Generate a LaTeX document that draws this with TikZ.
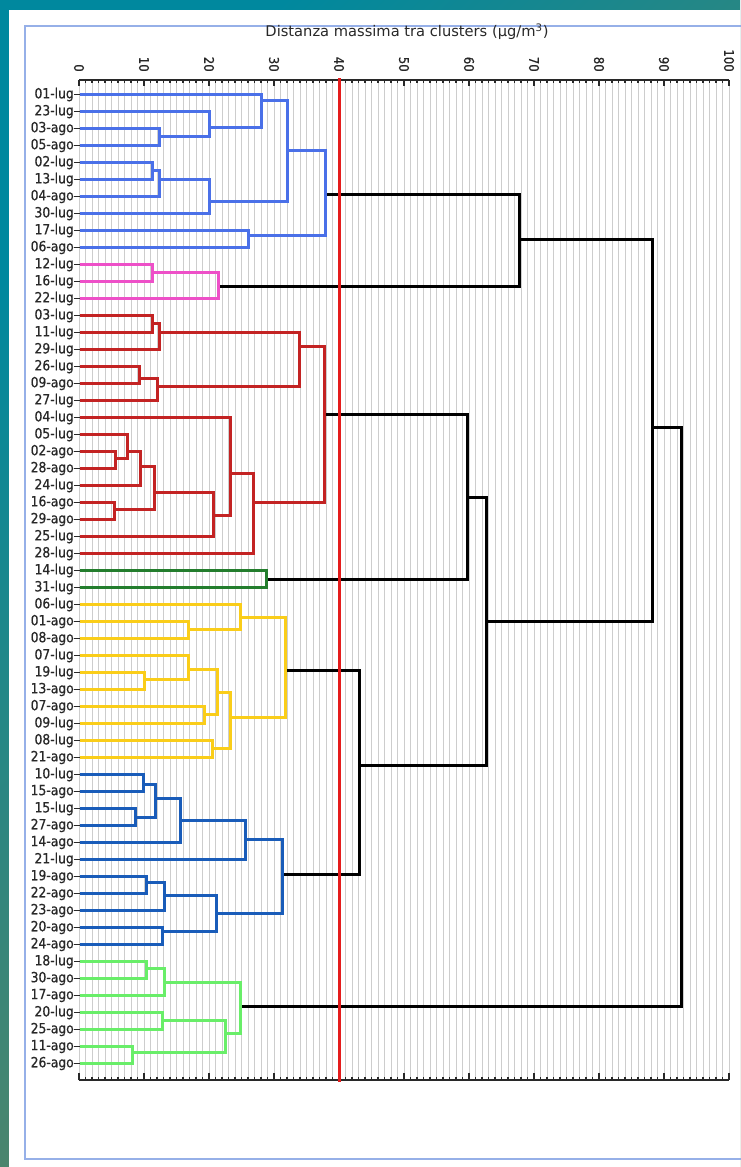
\documentclass[tikz,border=0pt]{standalone}
\usepackage{fontspec}
\setmainfont{DejaVu Sans}
\newfontfamily\labfont[FakeStretch=0.88, FakeBold=0.6]{DejaVu Sans}

\definecolor{bgteal}{RGB}{0,136,158}
\definecolor{bggreen}{RGB}{112,132,84}
\definecolor{frameblue}{RGB}{150,176,232}
\definecolor{gridgray}{RGB}{205,205,205}
\definecolor{labgray}{RGB}{40,40,40}
\definecolor{cutred}{RGB}{228,28,28}
\definecolor{cblue}{RGB}{74,112,232}
\definecolor{cpink}{RGB}{238,80,200}
\definecolor{cred}{RGB}{195,35,35}
\definecolor{cgreen}{RGB}{35,125,45}
\definecolor{cyellow}{RGB}{250,205,25}
\definecolor{cnavy}{RGB}{25,92,185}
\definecolor{clime}{RGB}{105,238,105}

% join two clusters at the height of the third coordinate
\newcommand{\joinpair}[4]{\draw[#1] (#2) -- (#2-|#3) -- (#4-|#3) -- (#4);}

\begin{document}
\begin{tikzpicture}[x=0.75pt, y=-0.75pt,
  leaflab/.style={anchor=east, inner sep=0pt, text=labgray, font=\labfont\fontsize{10.5}{12}\selectfont},
  ticklab/.style={anchor=east, rotate=-90, inner sep=0pt, text=labgray, font=\labfont\fontsize{10}{11}\selectfont},
  titlelab/.style={inner sep=0pt, text=labgray, font=\fontsize{11}{12}\selectfont},
  leaftick/.style={labgray, line width=1pt},
  grid line/.style={gridgray, line width=0.7pt},
  axis line/.style={labgray, line width=0.8pt},
  branch/.style={line width=2.25pt},
  bluecl/.style={branch, cblue},
  pinkcl/.style={branch, cpink},
  redcl/.style={branch, cred},
  greencl/.style={branch, cgreen},
  yellowcl/.style={branch, cyellow},
  navycl/.style={branch, cnavy},
  limecl/.style={branch, clime},
  linkcl/.style={branch, black}]

\useasboundingbox (0,0) rectangle (740,1167);

% Frame and panel
\shade[top color=bgteal, bottom color=bggreen, shading angle=45] (0,0) rectangle (740,1167);
\fill[white] (9,10) rectangle (740,1167);
\draw[frameblue, line width=1.1pt] (742,26) -- (25,26) -- (25,1159) -- (742,1159);

% Grid and axes
\foreach \v in {0,...,100}
  \draw[grid line] ({79+6.5*\v},80) -- ({79+6.5*\v},1080);
\draw[axis line] (79,80) -- (729,80);
\draw[axis line] (79,1080) -- (729,1080);
\foreach \v in {0,...,100} {
  \draw[axis line] ({79+6.5*\v},80) -- ({79+6.5*\v},83);
  \draw[axis line] ({79+6.5*\v},1080) -- ({79+6.5*\v},1077);
}
\foreach \v in {0,10,...,100} {
  \draw[axis line] ({79+6.5*\v},80) -- ({79+6.5*\v},86);
  \draw[axis line] ({79+6.5*\v},1080) -- ({79+6.5*\v},1073);
  \node[ticklab] (t\v) at ({79+6.5*\v},72) {\v};
}
\node[titlelab] (title) at (407,32) {Distanza massima tra clusters (µg/m\textsuperscript{3})};

% Leaves
\foreach \lab [count=\i from 0] in {01-lug,23-lug,03-ago,05-ago,02-lug,13-lug,04-ago,30-lug,17-lug,06-ago,
    12-lug,16-lug,22-lug,
    03-lug,11-lug,29-lug,26-lug,09-ago,27-lug,04-lug,05-lug,02-ago,28-ago,24-lug,16-ago,29-ago,25-lug,28-lug,
    14-lug,31-lug,
    06-lug,01-ago,08-ago,07-lug,19-lug,13-ago,07-ago,09-lug,08-lug,21-ago,
    10-lug,15-ago,15-lug,27-ago,14-ago,21-lug,19-ago,22-ago,23-ago,20-ago,24-ago,
    18-lug,30-ago,17-ago,20-lug,25-ago,11-ago,26-ago} {
  \coordinate (l\i) at (80,{94.5+17*\i});
  \node[leaflab] (n\i) at (74,{94.5+17*\i}) {\lab};
  \draw[leaftick] (n\i.east) -- (l\i);
}

% Merge points (x = height, y = where the parent link starts)
\coordinate (b1) at (159.5,136.5); \coordinate (b2) at (209.5,127.5);
\coordinate (b3) at (261.5,100.5); \coordinate (b4) at (152.5,170.5);
\coordinate (b5) at (159.5,179.5); \coordinate (b6) at (209.5,201.5);
\coordinate (b7) at (287.5,150.5); \coordinate (b8) at (248.5,235.5);
\coordinate (b9) at (325.5,194.5);
\coordinate (p1) at (152.5,272.5); \coordinate (p2) at (218.5,286.5);
\coordinate (r1) at (152.5,323.5); \coordinate (r2) at (159.5,332.5);
\coordinate (r3) at (139.5,378.5); \coordinate (r4) at (157.5,386.5);
\coordinate (r5) at (299.5,346.5); \coordinate (r6) at (324.5,414.5);
\coordinate (r7) at (115.5,458.5); \coordinate (r8) at (127.5,451.5);
\coordinate (r9) at (140.5,466.5); \coordinate (r10) at (114.5,509.5);
\coordinate (r11) at (154.5,492.5); \coordinate (r12) at (213.5,515.5);
\coordinate (r13) at (230.5,473.5); \coordinate (r14) at (253.5,502.5);
\coordinate (g0) at (266.5,579.5);
\coordinate (y1) at (188.5,629.5); \coordinate (y2) at (240.5,617.5);
\coordinate (y3) at (144.5,679.5); \coordinate (y4) at (188.5,669.5);
\coordinate (y5) at (204.5,714.5); \coordinate (y6) at (217.5,692.5);
\coordinate (y7) at (212.5,748.5); \coordinate (y8) at (230.5,717.5);
\coordinate (y9) at (285.5,670.5);
\coordinate (d1) at (143.5,784.5); \coordinate (d2) at (135.5,817.5);
\coordinate (d3) at (155.5,798.5); \coordinate (d4) at (180.5,820.5);
\coordinate (d5) at (245.5,839.5); \coordinate (d6) at (146.5,882.5);
\coordinate (d7) at (164.5,895.5); \coordinate (d8) at (162.5,931.5);
\coordinate (d9) at (216.5,913.5); \coordinate (d10) at (282.5,874.5);
\coordinate (m1) at (146.5,968.5); \coordinate (m2) at (164.5,982.5);
\coordinate (m3) at (162.5,1020.5); \coordinate (m4) at (132.5,1052.5);
\coordinate (m5) at (225.5,1033.5); \coordinate (m6) at (240.5,1006.5);
\coordinate (k1) at (359.5,765.5); \coordinate (k2) at (467.5,497.5);
\coordinate (k3) at (486.5,621.5); \coordinate (k4) at (519.5,239.5);
\coordinate (k5) at (652.5,427.5); \coordinate (k6) at (681.5,700);

% Links between the seven groups
\joinpair{linkcl}{y9}{k1}{d10}
\joinpair{linkcl}{r6}{k2}{g0}
\joinpair{linkcl}{k2}{k3}{k1}
\joinpair{linkcl}{b9}{k4}{p2}
\joinpair{linkcl}{k4}{k5}{k3}
\joinpair{linkcl}{k5}{k6}{m6}

% Group 1
\joinpair{bluecl}{l2}{b1}{l3}
\joinpair{bluecl}{l1}{b2}{b1}
\joinpair{bluecl}{l0}{b3}{b2}
\joinpair{bluecl}{l4}{b4}{l5}
\joinpair{bluecl}{b4}{b5}{l6}
\joinpair{bluecl}{b5}{b6}{l7}
\joinpair{bluecl}{b3}{b7}{b6}
\joinpair{bluecl}{l8}{b8}{l9}
\joinpair{bluecl}{b7}{b9}{b8}

% Group 2
\joinpair{pinkcl}{l10}{p1}{l11}
\joinpair{pinkcl}{p1}{p2}{l12}

% Group 3
\joinpair{redcl}{l13}{r1}{l14}
\joinpair{redcl}{r1}{r2}{l15}
\joinpair{redcl}{l16}{r3}{l17}
\joinpair{redcl}{r3}{r4}{l18}
\joinpair{redcl}{r2}{r5}{r4}
\joinpair{redcl}{l21}{r7}{l22}
\joinpair{redcl}{l20}{r8}{r7}
\joinpair{redcl}{r8}{r9}{l23}
\joinpair{redcl}{l24}{r10}{l25}
\joinpair{redcl}{r9}{r11}{r10}
\joinpair{redcl}{r11}{r12}{l26}
\joinpair{redcl}{l19}{r13}{r12}
\joinpair{redcl}{r13}{r14}{l27}
\joinpair{redcl}{r5}{r6}{r14}

% Group 4
\joinpair{greencl}{l28}{g0}{l29}

% Group 5
\joinpair{yellowcl}{l31}{y1}{l32}
\joinpair{yellowcl}{l30}{y2}{y1}
\joinpair{yellowcl}{l34}{y3}{l35}
\joinpair{yellowcl}{l33}{y4}{y3}
\joinpair{yellowcl}{l36}{y5}{l37}
\joinpair{yellowcl}{y4}{y6}{y5}
\joinpair{yellowcl}{l38}{y7}{l39}
\joinpair{yellowcl}{y6}{y8}{y7}
\joinpair{yellowcl}{y2}{y9}{y8}

% Group 6
\joinpair{navycl}{l40}{d1}{l41}
\joinpair{navycl}{l42}{d2}{l43}
\joinpair{navycl}{d1}{d3}{d2}
\joinpair{navycl}{d3}{d4}{l44}
\joinpair{navycl}{d4}{d5}{l45}
\joinpair{navycl}{l46}{d6}{l47}
\joinpair{navycl}{d6}{d7}{l48}
\joinpair{navycl}{l49}{d8}{l50}
\joinpair{navycl}{d7}{d9}{d8}
\joinpair{navycl}{d5}{d10}{d9}

% Group 7
\joinpair{limecl}{l51}{m1}{l52}
\joinpair{limecl}{m1}{m2}{l53}
\joinpair{limecl}{l54}{m3}{l55}
\joinpair{limecl}{l56}{m4}{l57}
\joinpair{limecl}{m3}{m5}{m4}
\joinpair{limecl}{m2}{m6}{m5}

% Cut level
\draw[cutred, line width=2.25pt] (339.5,78) -- (339.5,1082);
\end{tikzpicture}
\end{document}
